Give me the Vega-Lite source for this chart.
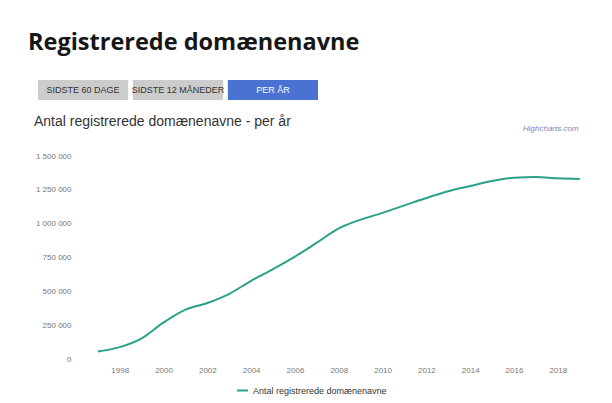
{
  "$schema": "https://vega.github.io/schema/vega-lite/v6.json",
  "background": "white",
  "padding": {"left": 28, "top": 30, "right": 10, "bottom": 2},
  "title": {"text": "Registrerede domænenavne", "anchor": "start", "font": "Open Sans", "fontSize": 23.5, "fontWeight": "bold", "color": "#161616", "offset": 26},
  "config": {"view": {"stroke": null}, "font": "Liberation Sans", "legend": {"layout": {"bottom": {"anchor": "middle"}}}},
  "spacing": 14,
  "vconcat": [
    {
      "width": 300,
      "height": 20,
      "data": {"values": [
        {"knap": "SIDSTE 60 DAGE", "aktiv": "nej"},
        {"knap": "SIDSTE 12 MÅNEDER", "aktiv": "nej"},
        {"knap": "PER ÅR", "aktiv": "ja"}
      ]},
      "encoding": {
        "x": {"field": "knap", "type": "nominal", "sort": null, "axis": null, "scale": {"paddingInner": 0.05, "paddingOuter": 0.105}}
      },
      "layer": [
        {"mark": {"type": "rect"},
         "encoding": {"color": {"condition": {"test": "datum.aktiv == 'ja'", "value": "#4a72d3"}, "value": "#cccccc"}}},
        {"mark": {"type": "text", "fontSize": 9},
         "encoding": {"text": {"field": "knap"},
           "color": {"condition": {"test": "datum.aktiv == 'ja'", "value": "#ffffff"}, "value": "#333333"}}}
      ]
    },
    {
      "width": 567,
      "height": 203,
      "title": {"text": "Antal registrerede domænenavne - per år", "anchor": "start", "fontSize": 14, "fontWeight": "normal", "color": "#333333", "offset": -4, "dx": 6},
      "layer": [
        {
          "data": {"values": [
            {"aar": 1997, "antal": 55000, "serie": "Antal registrerede domænenavne"},
            {"aar": 1998, "antal": 88000, "serie": "Antal registrerede domænenavne"},
            {"aar": 1999, "antal": 153000, "serie": "Antal registrerede domænenavne"},
            {"aar": 2000, "antal": 270000, "serie": "Antal registrerede domænenavne"},
            {"aar": 2001, "antal": 365000, "serie": "Antal registrerede domænenavne"},
            {"aar": 2002, "antal": 414000, "serie": "Antal registrerede domænenavne"},
            {"aar": 2003, "antal": 482000, "serie": "Antal registrerede domænenavne"},
            {"aar": 2004, "antal": 578000, "serie": "Antal registrerede domænenavne"},
            {"aar": 2005, "antal": 665000, "serie": "Antal registrerede domænenavne"},
            {"aar": 2006, "antal": 757000, "serie": "Antal registrerede domænenavne"},
            {"aar": 2007, "antal": 860000, "serie": "Antal registrerede domænenavne"},
            {"aar": 2008, "antal": 965000, "serie": "Antal registrerede domænenavne"},
            {"aar": 2009, "antal": 1030000, "serie": "Antal registrerede domænenavne"},
            {"aar": 2010, "antal": 1080000, "serie": "Antal registrerede domænenavne"},
            {"aar": 2011, "antal": 1135000, "serie": "Antal registrerede domænenavne"},
            {"aar": 2012, "antal": 1190000, "serie": "Antal registrerede domænenavne"},
            {"aar": 2013, "antal": 1240000, "serie": "Antal registrerede domænenavne"},
            {"aar": 2014, "antal": 1278000, "serie": "Antal registrerede domænenavne"},
            {"aar": 2015, "antal": 1315000, "serie": "Antal registrerede domænenavne"},
            {"aar": 2016, "antal": 1340000, "serie": "Antal registrerede domænenavne"},
            {"aar": 2017, "antal": 1345000, "serie": "Antal registrerede domænenavne"},
            {"aar": 2018, "antal": 1335000, "serie": "Antal registrerede domænenavne"},
            {"aar": 2019, "antal": 1330000, "serie": "Antal registrerede domænenavne"}
          ]},
          "mark": {"type": "line", "interpolate": "monotone", "strokeWidth": 2},
          "encoding": {
            "x": {"field": "aar", "type": "quantitative",
              "scale": {"domain": [1993.81, 2019.7], "nice": false, "zero": false},
              "axis": {"values": [1998, 2000, 2002, 2004, 2006, 2008, 2010, 2012, 2014, 2016, 2018], "tickCount": 20, "format": "d", "title": null, "grid": false, "domain": false, "ticks": false, "labelFontSize": 8, "labelColor": "#777777", "labelPadding": 7, "labelOverlap": false}},
            "y": {"field": "antal", "type": "quantitative",
              "scale": {"domain": [0, 1500000], "nice": false},
              "axis": {"values": [0, 250000, 500000, 750000, 1000000, 1250000, 1500000], "tickCount": 10, "labelExpr": "replace(format(datum.value, ','), regexp(',', 'g'), ' ')", "title": null, "grid": false, "domain": false, "ticks": false, "labelFontSize": 8, "labelColor": "#777777", "labelPadding": 9, "labelOverlap": false, "offset": -52}},
            "color": {"field": "serie", "type": "nominal", "scale": {"range": ["#2aa18a"]},
              "legend": {"orient": "bottom", "title": null, "symbolType": "stroke", "symbolStrokeWidth": 2, "symbolSize": 120, "labelFontSize": 9, "labelColor": "#333333", "offset": 10}}
          }
        },
        {
          "data": {"values": [{}]},
          "mark": {"type": "text", "align": "right", "baseline": "middle", "fontSize": 8, "fontStyle": "italic", "color": "#7c82b8"},
          "encoding": {
            "x": {"datum": 2018.95, "type": "quantitative"},
            "y": {"datum": 1700000, "type": "quantitative"},
            "text": {"value": "Highcharts.com"}
          }
        }
      ]
    }
  ]
}
